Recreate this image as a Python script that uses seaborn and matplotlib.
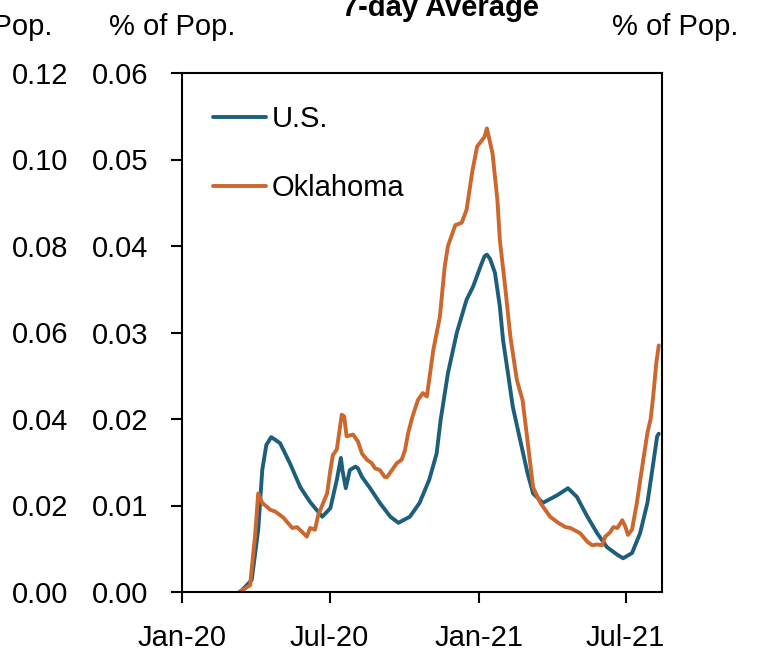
import pandas as pd
import numpy as np
import matplotlib
matplotlib.use('Agg')
import matplotlib.pyplot as plt
import matplotlib.dates as mdates
import seaborn as sns

# ---- data (share of population, 7-day average) ----
us_dates = ['2020-03-12', '2020-03-16', '2020-03-27', '2020-04-04', '2020-04-09', '2020-04-14',
            '2020-04-20', '2020-04-25', '2020-05-01', '2020-05-13', '2020-05-26', '2020-06-07',
            '2020-06-22', '2020-07-02', '2020-07-10', '2020-07-15', '2020-07-17', '2020-07-21',
            '2020-07-26', '2020-08-02', '2020-08-05', '2020-08-10', '2020-08-20', '2020-09-01',
            '2020-09-14', '2020-09-24', '2020-10-08', '2020-10-20', '2020-11-01', '2020-11-10',
            '2020-11-15', '2020-11-24', '2020-12-05', '2020-12-17', '2020-12-25', '2021-01-03',
            '2021-01-08', '2021-01-11', '2021-01-15', '2021-01-21', '2021-01-27', '2021-01-31',
            '2021-02-06', '2021-02-12', '2021-02-21', '2021-03-02', '2021-03-09', '2021-03-21',
            '2021-04-08', '2021-04-21', '2021-05-02', '2021-05-15', '2021-05-27', '2021-06-08',
            '2021-06-21', '2021-06-28', '2021-07-09', '2021-07-19', '2021-07-28', '2021-08-03',
            '2021-08-09', '2021-08-11']
us_vals = [0.0, 0.0003, 0.0014, 0.0072, 0.0141, 0.0170,
           0.0179, 0.0176, 0.0172, 0.0149, 0.0121, 0.0104,
           0.0087, 0.0097, 0.0130, 0.0155, 0.0140, 0.0120,
           0.0141, 0.0145, 0.0143, 0.0133, 0.0120, 0.0103,
           0.0087, 0.0080, 0.0087, 0.0103, 0.0130, 0.0160,
           0.0199, 0.0253, 0.0300, 0.0338, 0.0353, 0.0376,
           0.0388, 0.0390, 0.0385, 0.0369, 0.0330, 0.0291,
           0.0253, 0.0214, 0.0176, 0.0138, 0.0114, 0.0103,
           0.0112, 0.0120, 0.0110, 0.0087, 0.0068, 0.0052,
           0.0043, 0.0039, 0.0045, 0.0068, 0.0103, 0.0141,
           0.0180, 0.0183]

ok_dates = ['2020-03-12', '2020-03-25', '2020-03-31', '2020-04-04', '2020-04-09', '2020-04-19',
            '2020-04-25', '2020-05-05', '2020-05-16', '2020-05-22', '2020-06-03', '2020-06-07',
            '2020-06-13', '2020-06-17', '2020-06-28', '2020-07-02', '2020-07-05', '2020-07-10',
            '2020-07-16', '2020-07-19', '2020-07-22', '2020-07-30', '2020-08-05', '2020-08-10',
            '2020-08-16', '2020-08-22', '2020-08-26', '2020-09-01', '2020-09-07', '2020-09-10',
            '2020-09-16', '2020-09-22', '2020-09-28', '2020-10-02', '2020-10-06', '2020-10-11',
            '2020-10-18', '2020-10-24', '2020-10-29', '2020-11-06', '2020-11-14', '2020-11-20',
            '2020-11-24', '2020-12-03', '2020-12-11', '2020-12-17', '2020-12-24', '2020-12-30',
            '2021-01-08', '2021-01-11', '2021-01-18', '2021-01-24', '2021-01-27', '2021-02-03',
            '2021-02-09', '2021-02-17', '2021-02-24', '2021-03-02', '2021-03-09', '2021-03-18',
            '2021-03-30', '2021-04-09', '2021-04-18', '2021-04-24', '2021-05-06', '2021-05-15',
            '2021-05-21', '2021-05-27', '2021-06-02', '2021-06-06', '2021-06-12', '2021-06-16',
            '2021-06-21', '2021-06-27', '2021-07-01', '2021-07-04', '2021-07-09', '2021-07-15',
            '2021-07-21', '2021-07-28', '2021-08-01', '2021-08-04', '2021-08-08', '2021-08-11']
ok_vals = [0.0, 0.0008, 0.0064, 0.0114, 0.0103, 0.0095,
           0.0093, 0.0086, 0.0074, 0.0075, 0.0064, 0.0074,
           0.0072, 0.0089, 0.0114, 0.0141, 0.0158, 0.0165,
           0.0205, 0.0203, 0.0180, 0.0182, 0.0174, 0.0160,
           0.0153, 0.0149, 0.0143, 0.0141, 0.0133, 0.0133,
           0.0141, 0.0149, 0.0153, 0.0164, 0.0184, 0.0202,
           0.0222, 0.0230, 0.0226, 0.0280, 0.0318, 0.0376,
           0.0400, 0.0424, 0.0427, 0.0442, 0.0486, 0.0515,
           0.0526, 0.0536, 0.0507, 0.0453, 0.0407, 0.0349,
           0.0295, 0.0245, 0.0222, 0.0176, 0.0121, 0.0103,
           0.0087, 0.0080, 0.0075, 0.0074, 0.0068, 0.0058,
           0.0054, 0.0055, 0.0054, 0.0064, 0.0069, 0.0075,
           0.0074, 0.0083, 0.0075, 0.0066, 0.0072, 0.0103,
           0.0141, 0.0184, 0.0200, 0.0225, 0.0265, 0.0285]

x_ticks = ['2020-01-01', '2020-07-01', '2021-01-01', '2021-07-01']
y_ticks = [0.00, 0.01, 0.02, 0.03, 0.04, 0.05, 0.06]
y_ticks_outer = [0.00, 0.02, 0.04, 0.06, 0.08, 0.10, 0.12]

df = pd.concat([
    pd.DataFrame({'date': pd.to_datetime(us_dates), 'val': us_vals, 'series': 'U.S.'}),
    pd.DataFrame({'date': pd.to_datetime(ok_dates), 'val': ok_vals, 'series': 'Oklahoma'}),
])

# ---- style ----
sns.set_style('ticks')
plt.rcParams['font.family'] = ['Liberation Sans', 'DejaVu Sans']
plt.rcParams['text.color'] = 'black'
fs = 21
blue = '#1d5f7b'
orange = '#cc672d'

fig = plt.figure(figsize=(7.68, 6.53), dpi=100)
ax = fig.add_axes([182/768, 1-592/653, 480/768, 519/653])

sns.lineplot(data=df, x='date', y='val', hue='series', palette={'U.S.': blue, 'Oklahoma': orange},
             linewidth=2.8, estimator=None, sort=True, ax=ax)

ax.set_xlim(pd.Timestamp('2020-01-01'), pd.Timestamp('2021-08-15'))
ax.set_ylim(0, 0.06)
ax.set_xticks(pd.to_datetime(x_ticks))
ax.xaxis.set_major_formatter(mdates.DateFormatter('%b-%y'))
ax.set_yticks(y_ticks)
ax.set_yticklabels(['%.2f' % v for v in y_ticks])
ax.set_xlabel('')
ax.set_ylabel('')
for s in ax.spines.values():
    s.set_visible(True)
    s.set_linewidth(1.5)
    s.set_color('black')
ax.tick_params(axis='y', which='both', left=True, right=True, labelleft=True, labelright=True,
               direction='out', length=8, width=1.5, pad=16, labelsize=fs, colors='black')
ax.tick_params(axis='x', direction='out', length=8, width=1.5, pad=15, labelsize=fs, colors='black')

# outer left scale (0 - 0.12)
ax2 = ax.twinx()
ax2.set_ylim(0, 0.12)
ax2.set_yticks(y_ticks_outer)
ax2.set_yticklabels(['%.2f' % v for v in y_ticks_outer])
ax2.yaxis.tick_left()
ax2.tick_params(axis='y', length=0, pad=82, labelsize=fs, colors='black')
for s in ax2.spines.values():
    s.set_visible(False)

leg = ax.legend(loc='upper left', bbox_to_anchor=(0.065, 0.938), frameon=False, borderpad=0,
                borderaxespad=0, handlelength=1.8, handletextpad=0.2, labelspacing=1.4,
                prop={'family': ['Liberation Sans Narrow', 'Liberation Sans'], 'size': fs})
for line in leg.get_lines():
    line.set_linewidth(2.8)
for t in leg.get_texts():
    t.set_color('black')

# axis captions and title (partly cut at the figure edge, as in the source)
fig.text(-11/768, 1-27/653, '% of Pop.', ha='center', va='center', fontsize=fs)
fig.text(172/768, 1-27/653, '% of Pop.', ha='center', va='center', fontsize=fs)
fig.text(675/768, 1-27/653, '% of Pop.', ha='center', va='center', fontsize=fs)
fig.text(440/768, 1-16/653, '7-day Average', ha='center', va='baseline', fontsize=fs,
         fontweight='bold')

fig.savefig('out.png', dpi=100)
